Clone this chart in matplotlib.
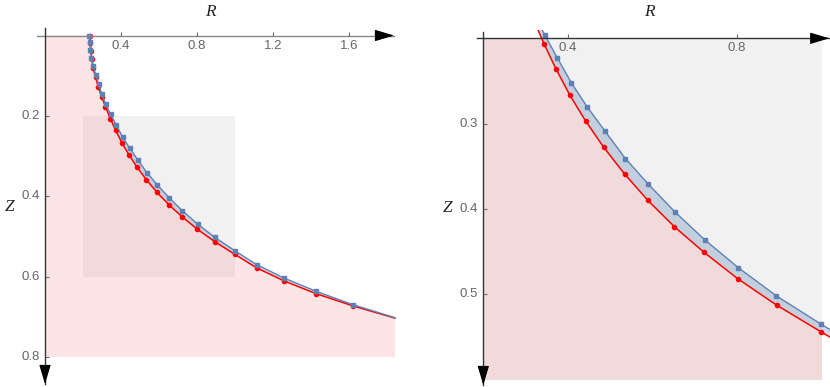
import numpy as np
import matplotlib
matplotlib.use("Agg")
import matplotlib.pyplot as plt
from matplotlib.patches import Rectangle

# curve values (R, Z), Z grows downward
r_blue = [0.233, 0.235, 0.239, 0.244, 0.254, 0.267, 0.282, 0.298, 0.319, 0.345,
          0.375, 0.408, 0.445, 0.488, 0.536, 0.590, 0.654, 0.723, 0.803, 0.893,
          0.998, 1.114, 1.256, 1.425, 1.623, 1.842]
z_blue = [0.000, 0.017, 0.036, 0.055, 0.076, 0.098, 0.121, 0.145, 0.170, 0.196,
          0.223, 0.252, 0.280, 0.309, 0.341, 0.371, 0.404, 0.436, 0.469, 0.502,
          0.535, 0.570, 0.603, 0.636, 0.670, 0.702]

r_red = [0.238, 0.239, 0.242, 0.246, 0.254, 0.266, 0.281, 0.298, 0.318, 0.344,
         0.372, 0.405, 0.442, 0.485, 0.534, 0.589, 0.652, 0.722, 0.802, 0.894,
         0.998, 1.114, 1.256, 1.425, 1.623, 1.842]
z_red = [0.000, 0.018, 0.038, 0.058, 0.081, 0.104, 0.128, 0.152, 0.177, 0.207,
         0.236, 0.267, 0.297, 0.328, 0.359, 0.390, 0.421, 0.451, 0.482, 0.513,
         0.544, 0.578, 0.610, 0.642, 0.673, 0.703]

zoom_box = (0.2, 1.0, 0.2, 0.6)   # R0, R1, Z0, Z1
left_xticks = [0.4, 0.8, 1.2, 1.6]
left_yticks = [0.2, 0.4, 0.6, 0.8]
right_xticks = [0.4, 0.8]
right_yticks = [0.3, 0.4, 0.5]

BLUE = "#5e81b5"
RED = "#ff0000"
TICK_COL = "#666666"
SERIF = "Liberation Serif"
SANS = "Liberation Sans"

W, H = 830, 387
fig = plt.figure(figsize=(W / 100, H / 100), dpi=100)


def px_axes(x0, x1, y0, y1):
    return fig.add_axes([x0 / W, 1 - y1 / H, (x1 - x0) / W, (y1 - y0) / H])


def draw_curves(ax, clip=None):
    rb, zb = np.array(r_blue), np.array(z_blue)
    rr, zr = np.array(r_red), np.array(z_red)
    # grey zoom rectangle
    g = ax.add_patch(Rectangle((zoom_box[0], zoom_box[2]), zoom_box[1] - zoom_box[0],
                               zoom_box[3] - zoom_box[2], facecolor="#c8c8c8",
                               alpha=0.25, edgecolor="none", zorder=1))
    # pink region under the red curve
    px = np.concatenate([[0.0], rr, [rr[-1], 0.0]])
    pz = np.concatenate([[0.0], zr, [0.8, 0.8]])
    p = ax.fill(px, pz, facecolor=(248 / 255, 158 / 255, 158 / 255), alpha=0.267,
                edgecolor="none", zorder=2)[0]
    # band between the two curves
    bx = np.concatenate([rb, rr[::-1]])
    bz = np.concatenate([zb, zr[::-1]])
    ax.fill(bx, bz, facecolor=BLUE, alpha=0.3, edgecolor="none", zorder=3)
    if clip is not None:
        for patch in (g, p):
            rect = Rectangle((clip[0], clip[2]), clip[1] - clip[0], clip[3] - clip[2],
                             transform=ax.transData)
            patch.set_clip_path(rect)
    ax.plot(rr, zr, color=RED, lw=1.1, marker="o", ms=3.0, markevery=slice(0, -1),
            zorder=4)
    ax.plot(rb, zb, color=BLUE, lw=1.0, marker="s", ms=3.2, markevery=slice(0, -1),
            zorder=5)


def draw_axes(ax, r0, z0, r_start, r_tip, z_start, z_tip, hcol, xticks, yticks):
    ax.plot([r_start, r_tip], [z0, z0], color=hcol, lw=1.0, zorder=6, clip_on=False)
    ax.plot([r0, r0], [z_start, z_tip], color="#333333", lw=1.0, zorder=6, clip_on=False)
    arrow = dict(arrowstyle="-|>,head_length=1.2,head_width=0.36", color="black",
                 lw=0.8, shrinkA=0, shrinkB=0)
    span_r = (r_tip - r_start) * 0.05
    span_z = (z_tip - z_start) * 0.05
    ax.annotate("", xy=(r_tip, z0), xytext=(r_tip - span_r, z0),
                arrowprops=arrow, annotation_clip=False, zorder=7)
    ax.annotate("", xy=(r0, z_tip), xytext=(r0, z_tip - span_z),
                arrowprops=arrow, annotation_clip=False, zorder=7)
    ax.plot(xticks, [z0] * len(xticks), ls="none", marker=2, ms=3, color="#666666",
            mew=0.8, zorder=6)
    ax.plot([r0] * len(yticks), yticks, ls="none", marker=1, ms=3, color="#666666",
            mew=0.8, zorder=6)
    for t in xticks:
        ax.annotate(f"{t:.1f}", xy=(t, z0), xytext=(0, -3), textcoords="offset points",
                    ha="center", va="top", fontsize=9.5, color=TICK_COL, family=SANS)
    for t in yticks:
        ax.annotate(f"{t:.1f}", xy=(r0, t), xytext=(-4, 0), textcoords="offset points",
                    ha="right", va="center", fontsize=9.5, color=TICK_COL, family=SANS)


# left panel: whole curve
ax1 = px_axes(30, 400, 20, 387)
ax1.set_xlim((30 - 45) / 190, (400 - 45) / 190)
ax1.set_ylim((387 - 35.5) / 402, (20 - 35.5) / 402)
ax1.axis("off")
draw_curves(ax1)
draw_axes(ax1, 0.0, 0.0, -0.044, 1.837, -0.019, 0.867, "#888888",
          left_xticks, left_yticks)

# right panel: zoom of the grey box
ax2 = px_axes(470, 830, 30, 387)
ax2.set_xlim(0.2 + (470 - 483.3) / 423, 0.2 + (830 - 483.3) / 423)
ax2.set_ylim(0.2 + (387 - 38.3) / 853, 0.2 + (30 - 38.3) / 853)
ax2.axis("off")
draw_curves(ax2, clip=zoom_box)
draw_axes(ax2, 0.2, 0.2, 0.1844, 1.018, 0.1923, 0.6065, "#333333",
          right_xticks, right_yticks)

for x, y, s in [(210, 12, "R"), (10, 207, "Z"), (649, 12, "R"), (448, 208, "Z")]:
    fig.text(x / W, 1 - y / H, s, ha="center", va="center", fontsize=12.5,
             family=SERIF, style="italic", color="#222222")

fig.savefig("out.png", dpi=100)
